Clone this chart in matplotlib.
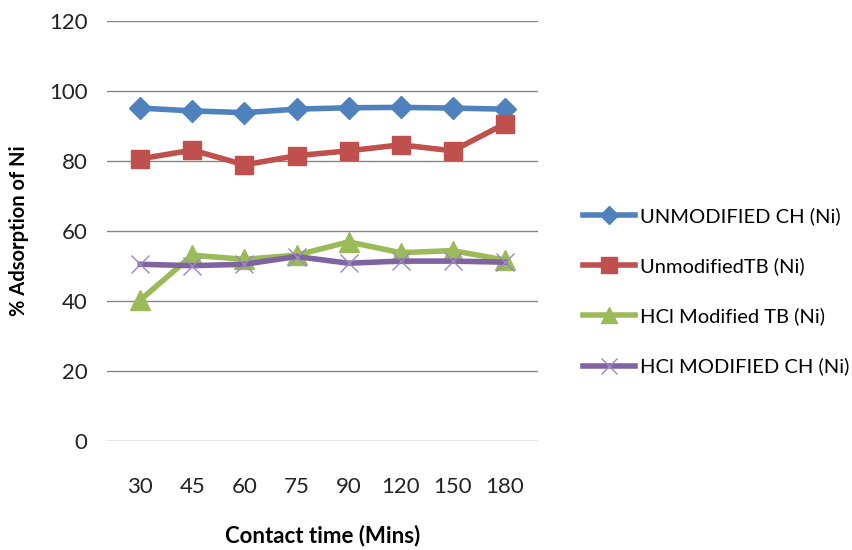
import matplotlib
matplotlib.use("Agg")
import matplotlib.pyplot as plt

plt.rcParams['font.family'] = ['Lato', 'DejaVu Sans']

# contact time categories (mins)
times = ['30', '45', '60', '75', '90', '120', '150', '180']

unmod_ch = [95.1, 94.3, 93.8, 94.8, 95.2, 95.3, 95.1, 94.8]
unmod_tb = [80.6, 83.1, 78.9, 81.5, 82.9, 84.6, 82.9, 90.6]
hcl_tb = [40.3, 53.1, 51.9, 53.1, 56.9, 53.8, 54.4, 51.7]
hcl_ch = [50.5, 50.1, 50.5, 52.7, 50.8, 51.4, 51.4, 51.1]

yticks = [0, 20, 40, 60, 80, 100, 120]

fig = plt.figure(figsize=(8.52, 5.5), dpi=100)
ax = fig.add_axes([0.1256, 0.198, 0.506, 0.764])

x = list(range(len(times)))

ax.plot(x, unmod_ch, color='#4F81BD', lw=4, marker='D', ms=11, label='UNMODIFIED CH (Ni)')
ax.plot(x, unmod_tb, color='#C0504D', lw=4, marker='s', ms=13, label='UnmodifiedTB (Ni)')
ax.plot(x, hcl_tb, color='#9BBB59', lw=4, marker='^', ms=14, label='HCl Modified TB (Ni)')
ax.plot(x, hcl_ch, color='#8064A2', lw=4, marker='x', ms=13, mew=1,
        markeredgecolor='#9C88C0', label='HCl MODIFIED CH (Ni)')

ax.set_xlim(-0.64, len(times) - 0.36)
ax.set_ylim(0, 120)
ax.set_yticks(yticks)
ax.set_xticks(x)
ax.set_xticklabels(times)
ax.grid(axis='y', color='#868686', lw=1)
ax.set_axisbelow(True)
for s in ax.spines.values():
    s.set_visible(False)
ax.tick_params(axis='both', length=0, labelsize=16, colors='#222222')
ax.tick_params(axis='y', pad=14)
ax.tick_params(axis='x', pad=26)

ax.set_ylabel('% Adsorption of Ni', fontsize=14.5, fontweight='bold', labelpad=14)
ax.set_xlabel('Contact time (Mins)', fontsize=16, fontweight='bold', labelpad=20)

fig.legend(loc='center left', bbox_to_anchor=(0.663, 0.47), frameon=False,
           fontsize=14.5, handlelength=2.6, handletextpad=0.25, labelspacing=1.6,
           markerscale=0.85)

fig.savefig('out.png', dpi=100)
